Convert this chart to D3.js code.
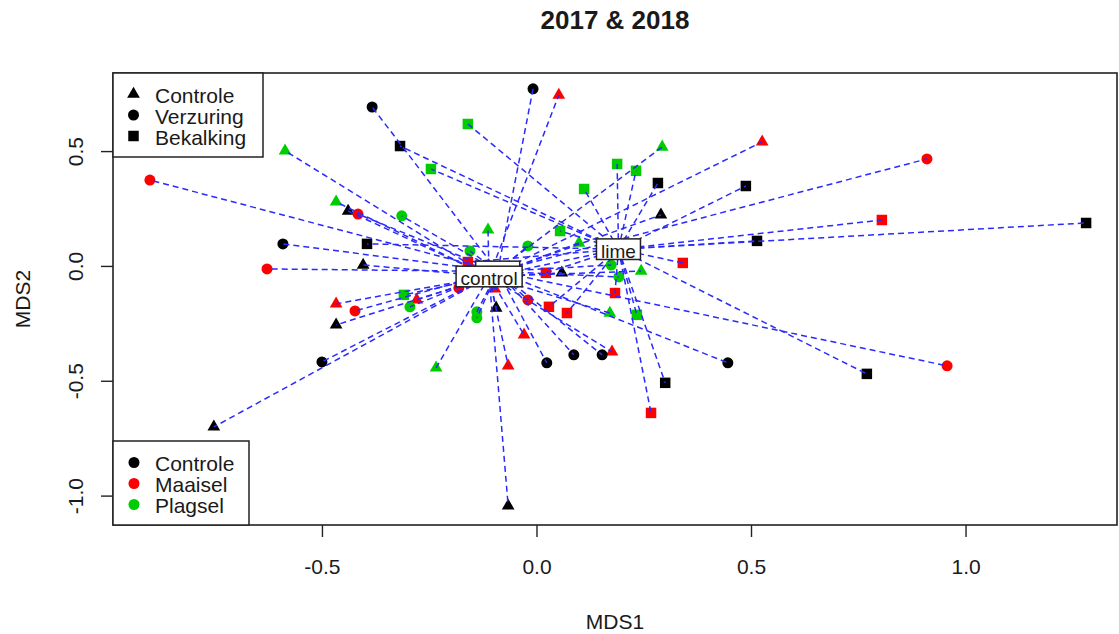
<!DOCTYPE html>
<html><head><meta charset="utf-8">
<script src="https://cdn.jsdelivr.net/npm/d3@7"></script>
<style>
body{margin:0;background:#fff;}
svg{display:block;font-family:"Liberation Sans",Arial,sans-serif;}
</style>
</head><body>
<svg id="chart" width="1119" height="634"></svg>
<script>
// ---------------- data ----------------
const title = "2017 & 2018";
const xLabel = "MDS1", yLabel = "MDS2";
const treatments = ["Controle", "Verzuring", "Bekalking"];      // shapes
const managements = ["Controle", "Maaisel", "Plagsel"];         // colours
const managementColors = ["#000000", "#FF0000", "#00CD00"];
const spiderLabels = ["control", "", "lime"];                   // centroid labels per treatment
const xTicks = [-0.5, 0.0, 0.5, 1.0];
const yTicks = [-1.0, -0.5, 0.0, 0.5];

// Controle (triangles)
const controleMDS1 = [-0.586,-0.467,-0.439,-0.404,-0.467,-0.467,-0.279,-0.752,0.052,0.293,0.290,-0.113,0.099,0.059,0.244,0.171,-0.029,-0.234,-0.066,0.176,-0.066,0.526,-0.094,-0.097];
const controleMDS2 = [0.501,0.279,0.239,0.004,-0.165,-0.257,-0.148,-0.701,0.744,0.518,0.222,0.157,0.100,-0.030,-0.022,-0.205,-0.300,-0.444,-0.435,-0.374,-1.045,0.540,-0.183,-0.100];
const controleMgmt = ["Plagsel","Plagsel","Controle","Controle","Maaisel","Controle","Maaisel","Controle","Maaisel","Plagsel","Controle","Plagsel","Plagsel","Controle","Plagsel","Plagsel","Maaisel","Plagsel","Maaisel","Maaisel","Controle","Maaisel","Controle","Maaisel"];

// Verzuring (circles)
const verzuringMDS1 = [-0.383,-0.901,-0.416,-0.314,-0.591,-0.628,-0.423,-0.295,-0.500,-0.008,-0.020,-0.155,0.174,-0.020,-0.139,-0.139,0.024,0.087,0.153,0.910,0.446,0.957,0.192,-0.181];
const verzuringMDS2 = [0.692,0.374,0.226,0.218,0.096,-0.013,-0.196,-0.178,-0.418,0.771,0.087,0.065,0.004,-0.148,-0.200,-0.226,-0.422,-0.387,-0.387,0.466,-0.422,-0.435,-0.048,-0.096];
const verzuringMgmt = ["Controle","Maaisel","Maaisel","Plagsel","Controle","Maaisel","Maaisel","Plagsel","Controle","Controle","Plagsel","Plagsel","Plagsel","Maaisel","Plagsel","Plagsel","Controle","Controle","Controle","Maaisel","Controle","Maaisel","Plagsel","Maaisel"];

// Bekalking (squares)
const bekalkingMDS1 = [-0.160,-0.318,-0.246,0.188,0.232,0.283,0.111,0.055,-0.160,-0.395,-0.309,0.022,0.029,0.071,0.183,0.234,0.341,0.300,0.267,0.488,0.805,1.281,0.514,0.770];
const bekalkingMDS2 = [0.618,0.522,0.422,0.444,0.414,0.361,0.335,0.152,0.017,0.096,-0.126,-0.030,-0.178,-0.205,-0.118,-0.213,0.013,-0.509,-0.640,0.348,0.200,0.187,0.109,-0.470];
const bekalkingMgmt = ["Plagsel","Controle","Plagsel","Plagsel","Plagsel","Controle","Plagsel","Plagsel","Maaisel","Controle","Plagsel","Maaisel","Maaisel","Maaisel","Maaisel","Plagsel","Maaisel","Controle","Maaisel","Controle","Maaisel","Controle","Controle","Controle"];

// ---------------- build ----------------
const groups = [
  {trt: "Controle", x: controleMDS1, y: controleMDS2, m: controleMgmt},
  {trt: "Verzuring", x: verzuringMDS1, y: verzuringMDS2, m: verzuringMgmt},
  {trt: "Bekalking", x: bekalkingMDS1, y: bekalkingMDS2, m: bekalkingMgmt}
];
const points = [];
groups.forEach(g => g.x.forEach((v, i) => points.push({trt: g.trt, mds1: v, mds2: g.y[i], mgmt: g.m[i]})));

const svg = d3.select("#chart");
const L = 113, R = 1117, T = 73, B = 525;
const x = d3.scaleLinear().domain([-0.987, 1.353]).range([L, R]);
const y = d3.scaleLinear().domain([-1.128, 0.840]).range([B, T]);
const color = d3.scaleOrdinal().domain(managements).range(managementColors);
const symType = d3.scaleOrdinal().domain(treatments).range([d3.symbolTriangle, d3.symbolCircle, d3.symbolSquare]);
const symSize = d3.scaleOrdinal().domain(treatments).range([70, 95, 110]);
const symbol = t => d3.symbol().type(symType(t)).size(symSize(t))();
const fmt = d => d3.format(".1f")(d).replace("\u2212", "-");
const textCol = "#1a1a1a";

// title
svg.append("text").attr("x", (L + R) / 2).attr("y", 29).attr("text-anchor", "middle")
  .attr("font-size", 26).attr("font-weight", "bold").attr("fill", textCol).text(title);

// points
svg.append("g").selectAll("path").data(points).join("path")
  .attr("transform", d => `translate(${x(d.mds1)},${y(d.mds2)})`)
  .attr("d", d => symbol(d.trt))
  .attr("fill", d => color(d.mgmt));

// spider
const centroids = treatments.map((t, i) => {
  const pts = points.filter(p => p.trt === t);
  return {trt: t, label: spiderLabels[i], mds1: d3.mean(pts, p => p.mds1), mds2: d3.mean(pts, p => p.mds2)};
});
const cByT = new Map(centroids.map(c => [c.trt, c]));
svg.append("g").selectAll("line").data(points).join("line")
  .attr("x1", d => x(cByT.get(d.trt).mds1)).attr("y1", d => y(cByT.get(d.trt).mds2))
  .attr("x2", d => x(d.mds1)).attr("y2", d => y(d.mds2))
  .attr("stroke", "#2a2aff").attr("stroke-width", 1.5).attr("stroke-dasharray", "6,4");

// centroid labels (Verzuring label lies hidden beneath "control")
const labelOrder = ["Verzuring", "Controle", "Bekalking"];
labelOrder.forEach(t => {
  const c = cByT.get(t);
  const g = svg.append("g").attr("transform", `translate(${x(c.mds1)},${y(c.mds2)})`);
  const rect = g.append("rect");
  const txt = g.append("text").attr("text-anchor", "middle").attr("y", 8.3)
    .attr("font-size", 19).attr("fill", textCol).text(c.label);
  const w = Math.max(txt.node().getComputedTextLength(), 35) + 9;
  rect.attr("x", -w / 2).attr("y", -10.3).attr("width", w).attr("height", 20.6)
    .attr("fill", "#fff").attr("stroke", "#222").attr("stroke-width", 1.5);
});

// axes
const xAx = svg.append("g").attr("transform", `translate(0,${B})`)
  .call(d3.axisBottom(x).tickValues(xTicks).tickSize(12).tickFormat(fmt));
const yAx = svg.append("g").attr("transform", `translate(${L},0)`)
  .call(d3.axisLeft(y).tickValues(yTicks).tickSize(12).tickFormat(fmt));
[xAx, yAx].forEach(a => {
  a.attr("font-size", 21).attr("font-family", null);
  a.select(".domain").remove();
  a.selectAll(".tick line").attr("stroke", "#222").attr("stroke-width", 1.4);
  a.selectAll(".tick text").attr("fill", textCol);
});
xAx.selectAll(".tick text").attr("y", 48.5).attr("dy", null);
yAx.selectAll(".tick text").attr("x", null).attr("dy", null).attr("text-anchor", "middle")
  .attr("transform", "translate(-30.5,0) rotate(-90)");

// frame
svg.append("rect").attr("x", L).attr("y", T).attr("width", R - L).attr("height", B - T)
  .attr("fill", "none").attr("stroke", "#222").attr("stroke-width", 1.6);

// axis titles
svg.append("text").attr("x", (L + R) / 2).attr("y", 628.5).attr("text-anchor", "middle")
  .attr("font-size", 21).attr("fill", textCol).text(xLabel);
svg.append("text").attr("transform", `translate(29.5,${(T + B) / 2}) rotate(-90)`).attr("text-anchor", "middle")
  .attr("font-size", 21).attr("fill", textCol).text(yLabel);

// legend 1: treatments (shapes)
const lg1 = svg.append("g");
lg1.append("rect").attr("x", L).attr("y", T).attr("width", 150).attr("height", 84)
  .attr("fill", "#fff").attr("stroke", "#222").attr("stroke-width", 1.5);
treatments.forEach((t, i) => {
  const cy = 95.5 + i * 21;
  lg1.append("path").attr("transform", `translate(133.5,${cy - 1.5})`).attr("d", symbol(t)).attr("fill", "#000");
  lg1.append("text").attr("x", 155).attr("y", cy + 7.5).attr("font-size", 21).attr("fill", textCol).text(t);
});

// legend 2: managements (colours)
const lg2 = svg.append("g");
lg2.append("rect").attr("x", L).attr("y", 441).attr("width", 136).attr("height", B - 441)
  .attr("fill", "#fff").attr("stroke", "#222").attr("stroke-width", 1.5);
managements.forEach((m, i) => {
  const cy = 463 + i * 21;
  lg2.append("path").attr("transform", `translate(134,${cy - 0.5})`).attr("d", symbol("Verzuring")).attr("fill", color(m));
  lg2.append("text").attr("x", 155).attr("y", cy + 7.5).attr("font-size", 21).attr("fill", textCol).text(m);
});
</script>
</body></html>
